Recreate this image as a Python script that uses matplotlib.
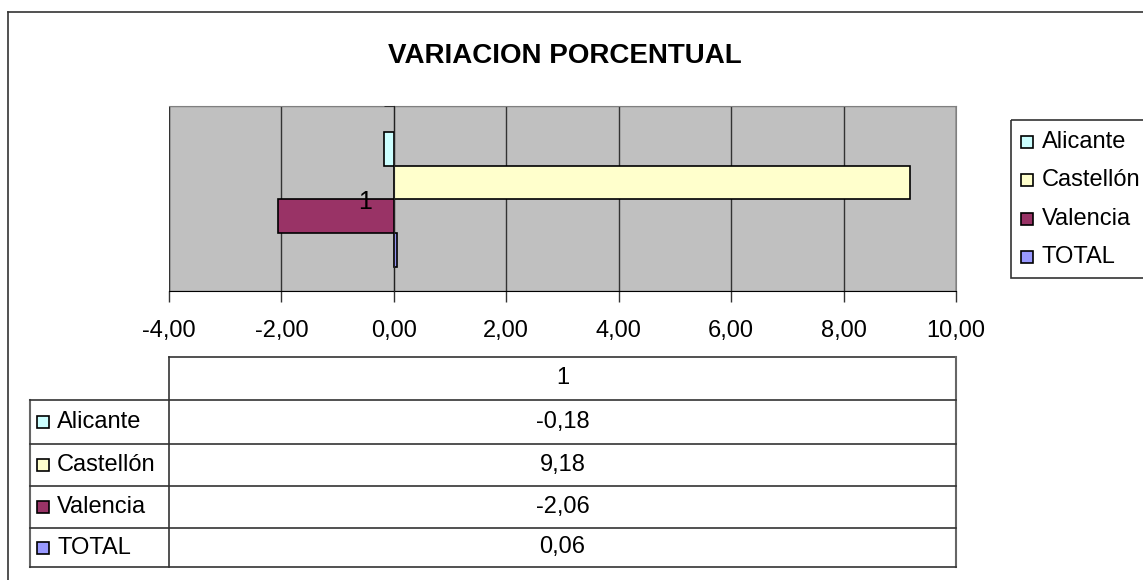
import matplotlib
matplotlib.use("Agg")
import matplotlib.pyplot as plt
from matplotlib.patches import Rectangle
from matplotlib.ticker import FuncFormatter

# datos del grafico
regiones = ["Alicante", "Castellón", "Valencia", "TOTAL"]
variacion = [-0.18, 9.18, -2.06, 0.06]
colores = ["#CCFFFF", "#FFFFCC", "#993366", "#9999FF"]
categoria = "1"
titulo = "VARIACION PORCENTUAL"
x_ticks = [-4, -2, 0, 2, 4, 6, 8, 10]

W, H = 1143, 580
plt.rcParams['font.family'] = ['Liberation Sans', 'DejaVu Sans']
plt.rcParams['axes.unicode_minus'] = False

FS = 17      # texto normal
FS_T = 20    # titulo


def coma(v):
    return f"{v:.2f}".replace('.', ',')


def px(x0, y0, x1, y1):
    # caja en pixeles -> coordenadas de figura
    return [x0 / W, 1 - y1 / H, (x1 - x0) / W, (y1 - y0) / H]


fig = plt.figure(figsize=(W / 100, H / 100), dpi=100)

# capa de fondo en pixeles (marco, titulo, leyenda, tabla)
bg = fig.add_axes([0, 0, 1, 1])
bg.set_xlim(0, W)
bg.set_ylim(H, 0)
bg.axis('off')

# marco exterior
bg.plot([8, 8], [12, H], color='#333333', lw=1.2)
bg.plot([8, W], [12, 12], color='#333333', lw=1.2)

bg.text(565, 56, titulo, ha='center', va='center', fontsize=FS_T, fontweight='bold')

# area de trazado
ax = fig.add_axes(px(169, 106, 956, 291))
ax.set_facecolor('#C0C0C0')
n = len(regiones)
pos = list(range(n))
ax.barh(pos, variacion, height=1.0, color=colores, edgecolor='black',
        linewidth=1.2, zorder=2)
ax.set_ylim(n - 0.5 + 0.72, -0.5 - 0.77)
ax.set_xlim(x_ticks[0], x_ticks[-1])
ax.set_xticks(x_ticks)
ax.xaxis.set_major_formatter(FuncFormatter(lambda v, p: coma(v)))
ax.grid(axis='x', color='#333333', linewidth=1, zorder=1)
ax.tick_params(axis='x', direction='out', length=8, width=1, labelsize=FS,
               pad=13, color='#333333')

# eje de categorias en x = 0
ax.spines['left'].set_position(('data', 0))
ax.spines['left'].set_color('#222222')
ax.spines['left'].set_zorder(4)
ax.set_yticks([(n - 1) / 2])
ax.set_yticklabels([categoria])
ax.tick_params(axis='y', length=0, pad=16, labelsize=18)
ax.set_yticks([ax.get_ylim()[1]], minor=True)
ax.tick_params(axis='y', which='minor', length=7, direction='out', color='#222222')
ax.yaxis.set_zorder(5)
for s in ['top', 'right']:
    ax.spines[s].set_color('#808080')
ax.spines['bottom'].set_color('black')
ax.add_patch(Rectangle((0, 0), 1, 1, transform=ax.transAxes, fill=False,
                       edgecolor='#808080', lw=1, zorder=0.5))

# leyenda
bg.add_patch(Rectangle((1011, 120), 160, 158, fill=False, edgecolor='#333333', lw=1.2))
for i, nombre in enumerate(regiones):
    y = 142 + 38.3 * i
    bg.add_patch(Rectangle((1021, y - 6), 12, 12, facecolor=colores[i],
                           edgecolor='black', lw=1.2))
    bg.text(1042, y, nombre, ha='left', va='center', fontsize=FS)

# tabla de datos
x_izq, x_col, x_der = 30, 169, 956
filas = [357, 400, 444, 486, 528, 567]
lc = '#333333'
bg.plot([x_col, x_der], [filas[0], filas[0]], color=lc, lw=1.2)
bg.plot([x_col, x_col], [filas[0], filas[-1]], color=lc, lw=1.2)
bg.plot([x_der, x_der], [filas[0], filas[-1]], color='#666666', lw=1.5)
bg.plot([x_izq, x_izq], [filas[1], filas[-1]], color='#666666', lw=1.5)
for yl in filas[1:]:
    bg.plot([x_izq, x_der], [yl, yl], color=lc, lw=1.2)

xc = (x_col + x_der) / 2
bg.text(xc, (filas[0] + filas[1]) / 2, categoria, ha='center', va='center', fontsize=FS)
for i, nombre in enumerate(regiones):
    y = (filas[i + 1] + filas[i + 2]) / 2
    bg.add_patch(Rectangle((37, y - 6), 12, 12, facecolor=colores[i],
                           edgecolor='black', lw=1.2))
    bg.text(57, y, nombre, ha='left', va='center', fontsize=FS)
    bg.text(xc, y, coma(variacion[i]), ha='center', va='center', fontsize=FS)

fig.savefig('out.png', dpi=100)
